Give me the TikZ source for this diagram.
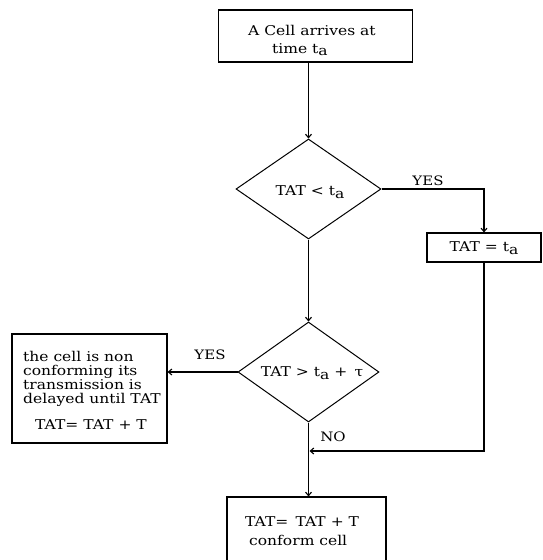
\documentclass[tikz,border=0pt]{standalone}
\usepackage{fontspec}
\setmainfont{DejaVu Serif}[FakeStretch=1.15]
\usetikzlibrary{shapes.geometric,arrows.meta,calc}
\newcommand\subA[1]{\raisebox{-2.5pt}{#1}}
\tikzset{
  box/.style={draw,line width=1.1pt,inner sep=0pt},
  dia/.style={draw,diamond,line width=1pt,inner sep=0pt},
  txt/.style={inner sep=0pt,font=\fontsize{13.5}{14}\selectfont},
  lbl/.style={inner sep=0pt,font=\fontsize{13}{14}\selectfont},
  conn/.style={line width=1.1pt},
  arr/.style={line width=1.1pt,-{Straight Barb[length=3.5pt,width=6pt]}}
}
\begin{document}
\begin{tikzpicture}[x=1pt,y=-1pt]
\useasboundingbox (0,0) rectangle (543,560);
% boxes
\node[box,minimum width=194pt,minimum height=52pt] (top) at (315.5,36) {};
\node[txt,anchor=north west,align=left] (topt) at (248,25) {A Cell arrives at\\[4pt]\hspace{24pt}time t\subA{a}};
\node[dia,minimum width=145pt,minimum height=100pt] (d1) at (308.5,189) {};
\node[txt] (d1t) at (310,192) {TAT < t\subA{a}};
\node[box,minimum width=114pt,minimum height=29pt] (b2) at (484,247.5) {};
\node[txt] (b2t) at (484,248) {TAT = t\subA{a}};
\node[dia,minimum width=141pt,minimum height=100pt] (d2) at (308.5,372) {};
\node[txt] (d2t) at (312,373) {TAT > t\subA{a} + \,τ};
\node[box,minimum width=155pt,minimum height=109pt] (lb) at (89.5,388.5) {};
\node[txt,anchor=north west,align=left] (lbt) at (23,351) {the cell is non\\conforming its\\transmission is\\delayed until TAT};
\node[txt] (lbt2) at (91,425) {TAT= TAT + T};
\node[box,minimum width=159pt,minimum height=65pt] (bb) at (306.5,529.5) {};
\node[txt,anchor=north west,align=left] (bbt) at (245,516) {TAT=\ \,TAT\ +\ T\\[5pt]\hspace{4pt}conform cell};
% labels
\node[lbl] (yes1) at (428,181) {YES};
\node[lbl] (yes2) at (210,355) {YES};
\node[lbl] (no) at (333,437) {NO};
\coordinate (m) at (308.5,451);
% connectors
\draw[arr] (d1.north |- top.south) -- (d1.north);
\draw[arr] (d1.east) -| (b2.north);
\draw[arr] (d1.south) -- (d2.north);
\draw[arr] (d2.west) -- (lb.east |- d2.west);
\draw[arr] (d2.south) -- (d2.south |- bb.north);
\draw[conn] (b2.south) |- (m -| b2.south) -- ($(m)+(5,0)$);
\draw[arr] ($(m)+(5,0)$) -- ($(m)+(1,0)$);
\end{tikzpicture}
\end{document}
